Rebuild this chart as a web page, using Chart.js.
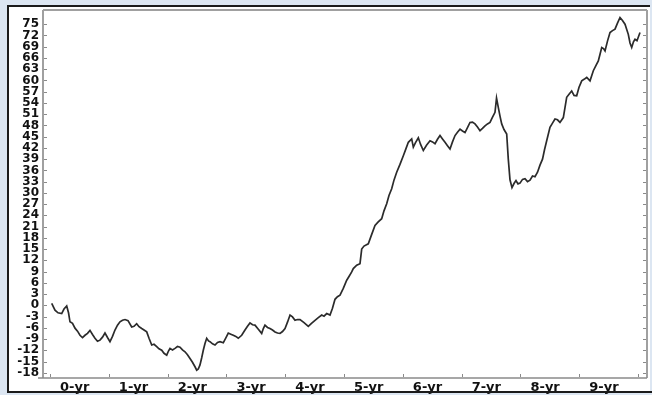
<!DOCTYPE html>
<html>
<head>
<meta charset="utf-8">
<script src="https://cdn.jsdelivr.net/npm/chart.js@4/dist/chart.umd.min.js"></script>
<style>
  html, body { margin: 0; padding: 0; background: #dce6f2; }
  canvas { display: block; }
</style>
</head>
<body>
<canvas id="chart" width="652" height="395"></canvas>
<script>
// Elapsed time in years since the start of the record
const years = [
  0.029, 0.085, 0.136, 0.199, 0.238, 0.284, 0.315, 0.340, 0.383, 0.425,
  0.468, 0.510, 0.553, 0.595, 0.638, 0.680, 0.723, 0.765, 0.808, 0.850,
  0.893, 0.935, 0.978, 1.020, 1.063, 1.105, 1.148, 1.190, 1.233, 1.276,
  1.327, 1.389, 1.429, 1.474, 1.514, 1.560, 1.599, 1.645, 1.684, 1.730,
  1.769, 1.815, 1.854, 1.900, 1.939, 1.985, 2.015, 2.041, 2.083, 2.126,
  2.168, 2.211, 2.253, 2.296, 2.338, 2.381, 2.423, 2.466, 2.495, 2.522,
  2.551, 2.580, 2.607, 2.636, 2.665, 2.696, 2.721, 2.764, 2.806, 2.849,
  2.891, 2.947, 2.993, 3.032, 3.075, 3.117, 3.160, 3.202, 3.260, 3.316,
  3.359, 3.401, 3.444, 3.486, 3.543, 3.600, 3.628, 3.656, 3.699, 3.741,
  3.784, 3.827, 3.869, 3.912, 3.954, 3.997, 4.039, 4.082, 4.124, 4.167,
  4.209, 4.252, 4.320, 4.393, 4.447, 4.507, 4.563, 4.621, 4.660, 4.706,
  4.762, 4.804, 4.847, 4.889, 4.932, 4.988, 5.046, 5.085, 5.131, 5.158,
  5.216, 5.272, 5.301, 5.340, 5.413, 5.468, 5.527, 5.578, 5.641, 5.680,
  5.726, 5.765, 5.811, 5.850, 5.896, 5.952, 6.009, 6.054, 6.094, 6.151,
  6.179, 6.216, 6.264, 6.301, 6.349, 6.403, 6.463, 6.505, 6.548, 6.590,
  6.633, 6.675, 6.718, 6.760, 6.803, 6.845, 6.888, 6.930, 6.973, 7.015,
  7.058, 7.100, 7.143, 7.185, 7.228, 7.270, 7.313, 7.355, 7.398, 7.440,
  7.483, 7.526, 7.568, 7.594, 7.624, 7.653, 7.682, 7.721, 7.767, 7.794,
  7.823, 7.857, 7.891, 7.925, 7.959, 7.993, 8.036, 8.078, 8.121, 8.163,
  8.206, 8.248, 8.291, 8.333, 8.376, 8.410, 8.447, 8.503, 8.546, 8.588,
  8.631, 8.673, 8.730, 8.787, 8.827, 8.872, 8.912, 8.957, 8.997, 9.043,
  9.082, 9.128, 9.184, 9.240, 9.286, 9.325, 9.354, 9.383, 9.413, 9.439,
  9.481, 9.524, 9.566, 9.609, 9.651, 9.694, 9.736, 9.779, 9.835, 9.864,
  9.893, 9.923, 9.949, 9.983, 10.034
];

// Cumulative value at each time point
const values = [
   0.5, -1.3, -2.0, -2.2, -1.0, -0.2, -2.0, -4.4, -4.8, -6.1,
  -6.9, -8.0, -8.6, -8.0, -7.5, -6.7, -7.8, -8.8, -9.6, -9.3,
  -8.5, -7.4, -8.6, -9.7, -8.3, -6.6, -5.3, -4.4, -4.0, -3.8,
  -4.1, -5.8, -5.6, -4.9, -5.7, -6.2, -6.6, -7.1, -8.8, -10.6,
  -10.4, -11.0, -11.6, -12.0, -12.8, -13.3, -12.2, -11.5, -11.9, -11.5,
  -11.0, -11.2, -11.9, -12.4, -13.2, -14.2, -15.2, -16.4, -17.3, -17.0,
  -15.9, -14.0, -12.0, -10.2, -8.8, -9.5, -9.7, -10.3, -10.6, -9.9,
  -9.7, -10.0, -8.6, -7.4, -7.7, -8.0, -8.3, -8.8, -8.0, -6.6,
  -5.6, -4.7, -5.2, -5.3, -6.4, -7.5, -6.2, -5.3, -5.9, -6.2,
  -6.6, -7.1, -7.4, -7.5, -7.0, -6.2, -4.5, -2.6, -3.1, -4.0,
  -3.8, -3.8, -4.6, -5.6, -4.8, -4.0, -3.3, -2.6, -2.9, -2.2,
  -2.6, -0.8, 1.6, 2.3, 2.7, 4.5, 6.7, 7.7, 8.9, 9.8,
  10.7, 11.1, 15.0, 15.8, 16.4, 18.8, 21.3, 22.2, 23.1, 25.2,
  27.1, 29.3, 31.1, 33.4, 35.5, 37.6, 39.9, 41.8, 43.5, 44.4,
  42.2, 43.4, 44.7, 43.0, 41.3, 42.7, 43.9, 43.6, 43.1, 44.3,
  45.3, 44.4, 43.5, 42.6, 41.7, 43.6, 45.3, 46.2, 47.0, 46.5,
  46.1, 47.4, 48.8, 48.9, 48.4, 47.6, 46.6, 47.2, 47.9, 48.4,
  48.8, 50.2, 51.5, 55.3, 52.8, 50.5, 48.4, 46.9, 45.7, 39.0,
  33.5, 31.4, 32.5, 33.3, 32.4, 32.6, 33.6, 33.8, 33.0, 33.4,
  34.5, 34.3, 35.5, 37.4, 39.0, 41.5, 43.9, 47.5, 48.6, 49.7,
  49.5, 48.8, 50.1, 55.5, 56.3, 57.2, 56.0, 55.9, 58.2, 59.9,
  60.3, 60.8, 59.9, 62.6, 64.0, 65.2, 67.0, 68.8, 68.5, 67.9,
  70.5, 72.8, 73.3, 73.7, 75.3, 76.8, 76.0, 75.0, 72.3, 70.0,
  68.8, 70.3, 71.0, 70.6, 72.8
];

// Value-axis tick labels
const yTickValues = [
  -18, -15, -12, -9, -6, -3, 0, 3, 6, 9, 12, 15, 18, 21, 24, 27, 30, 33,
  36, 39, 42, 45, 48, 51, 54, 57, 60, 63, 66, 69, 72, 75
];

// Year labels (one per year interval) and the year boundaries that carry tick marks
const yearLabels = ['0-yr', '1-yr', '2-yr', '3-yr', '4-yr', '5-yr', '6-yr', '7-yr', '8-yr', '9-yr'];
const yearBoundaries = [0, 1, 2, 3, 4, 5, 6, 7, 8, 9, 10];

const points = years.map((t, i) => ({ x: t, y: values[i] }));

// White panel behind the plot, with dark edges on top
const panel = {
  id: 'panel',
  beforeDraw(chart) {
    const c = chart.ctx;
    c.save();
    c.fillStyle = '#dce6f2';
    c.fillRect(0, 0, chart.width, chart.height);
    c.fillStyle = '#ffffff';
    c.fillRect(8, 6, 642, 387);
    c.restore();
  },
  afterDraw(chart) {
    const c = chart.ctx;
    c.save();
    c.fillStyle = '#1b1b1b';
    c.fillRect(7, 5, 643, 2);     // top edge
    c.fillRect(7, 5, 2, 388);     // left edge
    c.fillRect(7, 391, 645, 2);   // bottom edge
    c.restore();
  }
};

// Grey frame around the plot area with short inward tick marks
const frame = {
  id: 'frame',
  beforeDatasetsDraw(chart) {
    const { ctx: c, chartArea: a, scales } = chart;
    c.save();
    c.strokeStyle = '#a0a0a0';
    c.lineWidth = 2;
    c.beginPath();
    c.moveTo(a.left, a.top); c.lineTo(a.right, a.top);
    c.moveTo(a.right, a.top); c.lineTo(a.right, a.bottom);
    c.moveTo(a.left, a.top); c.lineTo(a.left, a.bottom);
    c.stroke();
    c.strokeStyle = '#8a8a8a';
    c.lineWidth = 1.5;
    c.beginPath();
    c.moveTo(a.left - 5, a.bottom); c.lineTo(a.right, a.bottom);
    c.stroke();

    c.strokeStyle = '#8a8a8a';
    c.lineWidth = 1;
    c.beginPath();
    yTickValues.forEach(v => {
      const y = Math.round(scales.y.getPixelForValue(v)) + 0.5;
      c.moveTo(a.left + 1, y); c.lineTo(a.left + 4, y);
      c.moveTo(a.right - 4, y); c.lineTo(a.right - 1, y);
    });
    yearBoundaries.forEach(v => {
      const x = Math.round(scales.x.getPixelForValue(v)) + 0.5;
      c.moveTo(x, a.bottom - 1); c.lineTo(x, a.bottom - 4);
    });
    c.stroke();
    c.restore();
  }
};

new Chart(document.getElementById('chart'), {
  type: 'line',
  data: {
    datasets: [{
      data: points,
      borderColor: '#2b2b2b',
      borderWidth: 1.7,
      pointRadius: 0,
      tension: 0,
      fill: false
    }]
  },
  options: {
    responsive: false,
    animation: false,
    devicePixelRatio: 1,
    layout: { padding: { left: 0, right: 5, top: 9, bottom: 0 } },
    plugins: { legend: { display: false }, tooltip: { enabled: false } },
    scales: {
      x: {
        type: 'linear',
        min: -0.119,
        max: 10.153,
        afterBuildTicks: s => { s.ticks = yearLabels.map((_, i) => ({ value: i + 0.42 })); },
        afterFit: s => { s.height = 17; },
        grid: { display: false, drawTicks: false },
        border: { display: false },
        ticks: {
          autoSkip: false,
          maxRotation: 0,
          padding: 2,
          color: '#111111',
          font: { family: 'DejaVu Sans', weight: 'bold', size: 13 },
          callback: (v, i) => yearLabels[i]
        }
      },
      y: {
        type: 'linear',
        min: -19.4,
        max: 78.8,
        afterBuildTicks: s => { s.ticks = yTickValues.map(v => ({ value: v })); },
        afterFit: s => { s.width = 43; },
        grid: { display: false, drawTicks: false },
        border: { display: false },
        ticks: {
          autoSkip: false,
          padding: 4,
          color: '#111111',
          font: { family: 'DejaVu Sans', weight: 'bold', size: 12, lineHeight: 1 },
          callback: v => String(v)
        }
      }
    }
  },
  plugins: [panel, frame]
});
</script>
</body>
</html>
